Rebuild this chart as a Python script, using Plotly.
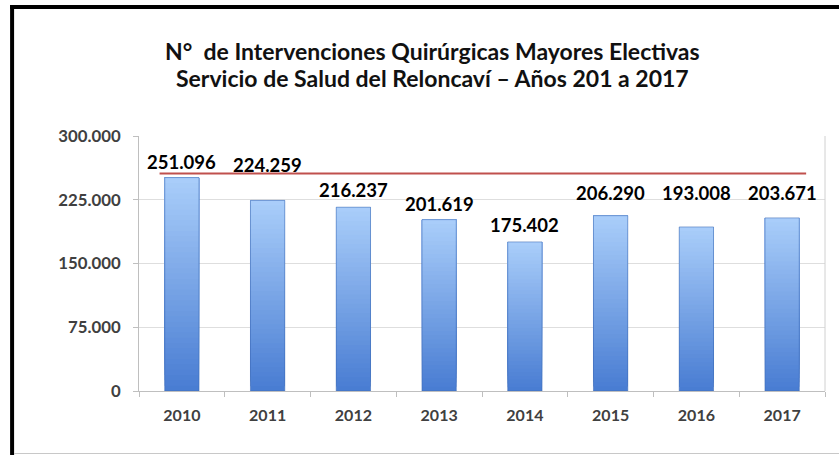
import plotly.graph_objects as go

# ---- data ----
years = ["2010", "2011", "2012", "2013", "2014", "2015", "2016", "2017"]
interventions = [251096, 224259, 216237, 201619, 175402, 206290, 193008, 203671]
reference_level = 256000
y_ticks = [0, 75000, 150000, 225000, 300000]

title_line1 = "N°  de Intervenciones Quirúrgicas Mayores Electivas"
title_line2 = "Servicio de Salud del Reloncaví – Años 201 a 2017"

# ---- layout constants ----
W, H = 839, 455
ML, MR, MT, MB = 139, 13.5, 136, 64
PW, PH = W - ML - MR, H - MT - MB
label_shift = [16, 35, 17, 16, 17, 23, 34, 25]

def px_x(px):
    return (px - ML) / PW

def px_y(py):
    return (H - MB - py) / PH

idx = list(range(len(years)))

fig = go.Figure()

# gradient bars: layered bars, each from a fraction of the value to the top
N = 40
dark = (72, 124, 210)
light = (170, 206, 250)
for k in range(N):
    t = (k + 0.5) / N
    c = tuple(round(dark[i] + (light[i] - dark[i]) * t) for i in range(3))
    fig.add_trace(go.Bar(
        x=idx,
        y=[v * (1 - k / N) for v in interventions],
        base=[v * k / N for v in interventions],
        width=0.4,
        marker=dict(color="rgb(%d,%d,%d)" % c, line=dict(width=0)),
        hoverinfo="skip",
        showlegend=False,
    ))
# outline
fig.add_trace(go.Bar(
    x=idx, y=interventions, width=0.4,
    marker=dict(color="rgba(0,0,0,0)", line=dict(color="rgba(60,105,180,0.55)", width=1)),
    showlegend=False,
    customdata=years,
    hovertemplate="%{customdata}: %{y:,.0f}<extra></extra>",
))

annotations = []
for i, v in enumerate(interventions):
    annotations.append(dict(
        x=i, y=v, xref="x", yref="y",
        text=f"{v:,}".replace(",", "."),
        showarrow=False, yanchor="middle", yshift=label_shift[i],
        font=dict(family="Lato", size=18.5, color="#000000", weight="bold"),
    ))

title_font = dict(family="Lato", size=23, color="#111111", weight="bold")
for txt, cy in [(title_line1, 50.5), (title_line2, 78.5)]:
    annotations.append(dict(
        text=txt, xref="paper", yref="paper", x=px_x(433), y=px_y(cy),
        xanchor="center", yanchor="middle", showarrow=False, font=title_font,
    ))

shapes = [
    # reference line
    dict(type="line", xref="x", yref="y", x0=-0.26, x1=7.28,
         y0=reference_level, y1=reference_level,
         line=dict(color="#c0504d", width=2)),
    # plot-area right border
    dict(type="line", xref="paper", yref="paper", x0=1, x1=1, y0=0, y1=1,
         line=dict(color="#d0d0d0", width=1)),
    # frame: left and top black, bottom gray
    dict(type="line", xref="paper", yref="paper", x0=px_x(12), x1=px_x(12),
         y0=px_y(5), y1=px_y(H + 2), line=dict(color="#000000", width=4)),
    dict(type="line", xref="paper", yref="paper", x0=px_x(10), x1=px_x(W + 2),
         y0=px_y(7), y1=px_y(7), line=dict(color="#000000", width=4)),
    dict(type="line", xref="paper", yref="paper", x0=px_x(14), x1=px_x(W + 2),
         y0=px_y(453.5), y1=px_y(453.5), line=dict(color="#c8c8c8", width=1)),
]

tick_font = dict(family="Lato", size=16.8, color="#404040", weight="bold")

fig.update_layout(
    width=W, height=H,
    margin=dict(l=ML, r=MR, t=MT, b=MB, pad=0),
    paper_bgcolor="white", plot_bgcolor="white",
    barmode="overlay",
    separators=",.",
    showlegend=False,
    annotations=annotations,
    shapes=shapes,
    xaxis=dict(
        range=[-0.5, len(years) - 0.5], autorange=False,
        tickvals=idx, ticktext=years,
        showline=True, linecolor="#bfbfbf", linewidth=1,
        ticks="",
        ticklabelstandoff=10,
        tickfont=dict(family="Lato", size=16, color="#404040", weight="bold"),
        showgrid=False, zeroline=False,
        minor=dict(tickvals=[i - 0.5 for i in range(len(years) + 1)],
                   ticks="outside", ticklen=5, tickcolor="#bfbfbf", showgrid=False),
    ),
    yaxis=dict(
        range=[0, 300000], autorange=False,
        tickvals=y_ticks, tickformat=",.0f",
        showline=True, linecolor="#bfbfbf", linewidth=1, mirror=False,
        ticks="outside", ticklen=5, tickcolor="#bfbfbf",
        ticklabelstandoff=9,
        showgrid=True, gridcolor="#dedede", gridwidth=1,
        zeroline=False,
        tickfont=tick_font,
    ),
)

fig.write_html("out.html", config={"displayModeBar": False},
               post_script="document.body.style.margin='0';document.body.style.overflow='hidden';")
